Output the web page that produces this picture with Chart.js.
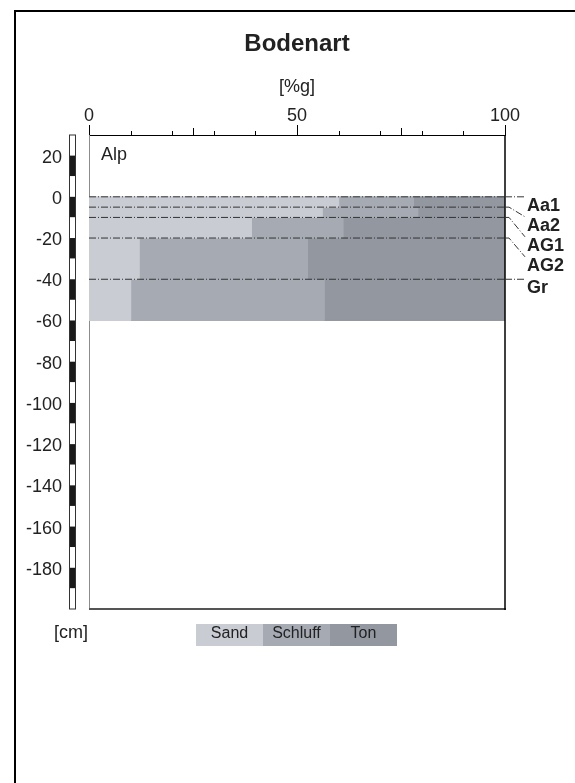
<!DOCTYPE html>
<html><head><meta charset="utf-8">
<script src="https://cdn.jsdelivr.net/npm/chart.js@4.4.0/dist/chart.umd.min.js"></script>
<style>
html,body{margin:0;padding:0;background:#fff;}
#wrap{position:relative;width:575px;height:783px;overflow:hidden;background:#fff;}
#c{position:absolute;left:0;top:0;}
#frame{position:absolute;left:14px;top:10px;width:620px;height:820px;border-left:2px solid #000;border-top:2px solid #000;}
.leg{position:absolute;top:624px;height:22px;line-height:22px;text-align:center;font:16px 'Liberation Sans',Arial,sans-serif;color:#222;}
#cm{position:absolute;left:36px;width:70px;top:622px;text-align:center;font:18px 'Liberation Sans',Arial,sans-serif;color:#222;}
</style></head>
<body><div id="wrap"><canvas id="c" width="575" height="783"></canvas><div id="frame"></div><div id="cm">[cm]</div></div>
<script>
// ---- data ----
const layers = ['Aa1','Aa2','AG1','AG2','Gr'];
const layerTop = [0,-5,-10,-20,-40];
const layerBottom = [-5,-10,-20,-40,-60];
const sand = [60,56,39,12,10];
const schluff = [18,23,22,40.5,46.5];
const ton = [22,21,39,47.5,43.5];
const yTicks = [20,0,-20,-40,-60,-80,-100,-120,-140,-160,-180];
const xTicks = [0,50,100];
const xMinor = [10,20,25,30,40,60,70,75,80,90];
const classNames = ['Sand','Schluff','Ton'];
// ---- styles ----
const classColors = ['#c9ccd3','#a6abb3','#9297a0'];
const F = "'Liberation Sans', Arial, sans-serif";
const DASH = [7,2,1,2];

const datasets = [];
layers.forEach((name,i)=>{
  const parts=[sand[i],schluff[i],ton[i]];
  let x0=0;
  parts.forEach((v,k)=>{
    const x1=x0+v;
    datasets.push({label:name+' '+classNames[k],
      data:[{x:x0,y:layerTop[i]},{x:x1,y:layerTop[i]},{x:x1,y:layerBottom[i]},{x:x0,y:layerBottom[i]},{x:x0,y:layerTop[i]}],
      showLine:true, fill:'shape', backgroundColor:classColors[k], borderColor:classColors[k], borderWidth:1,
      pointRadius:0, tension:0, order:2});
    x0=x1;
  });
});
layers.forEach((name,i)=>{
  datasets.push({label:name+' Grenze', data:[{x:0,y:layerTop[i]},{x:100,y:layerTop[i]}],
    showLine:true, fill:false, borderColor:'#333', borderWidth:1, borderDash:DASH, pointRadius:0, order:1});
});

const overlay = {
  id:'overlay',
  afterDraw(chart){
    const {ctx, chartArea:a, scales:{x,y}} = chart;
    ctx.save();
    // right & bottom frame
    ctx.setLineDash([]);
    ctx.strokeStyle='#555'; ctx.lineWidth=2;
    ctx.beginPath(); ctx.moveTo(a.left, a.bottom); ctx.lineTo(a.right+1, a.bottom); ctx.stroke();
    ctx.strokeStyle='#000'; ctx.lineWidth=1.5;
    ctx.beginPath(); ctx.moveTo(a.right, a.top); ctx.lineTo(a.right, a.bottom+1); ctx.stroke();
    // x ticks
    ctx.strokeStyle='#000'; ctx.lineWidth=1;
    const tick=(v,len)=>{const px=Math.round(x.getPixelForValue(v))+0.5; ctx.beginPath(); ctx.moveTo(px,a.top); ctx.lineTo(px,a.top-len); ctx.stroke();};
    xTicks.forEach(v=>tick(v,10));
    xMinor.forEach(v=>tick(v,(v%25===0)?7:4));
    // depth scale bar
    const bx0=69, bx1=76;
    for(let t=30;t>-200;t-=10){
      const p0=y.getPixelForValue(t), p1=y.getPixelForValue(t-10);
      ctx.fillStyle=(t%20===0)?'#1a1a1a':'#fff';
      ctx.fillRect(bx0,p0,bx1-bx0,p1-p0);
    }
    ctx.strokeStyle='#333'; ctx.lineWidth=1;
    ctx.strokeRect(bx0+0.5, y.getPixelForValue(30), bx1-bx0-1, y.getPixelForValue(-200)-y.getPixelForValue(30));
    // Alp
    ctx.fillStyle='#222'; ctx.font='18px '+F; ctx.textAlign='left'; ctx.textBaseline='alphabetic';
    ctx.fillText('Alp', 101, 160);
    // leaders and labels
    let prev=-Infinity;
    ctx.font='bold 18px '+F;
    layers.forEach((name,i)=>{
      const by=y.getPixelForValue(layerTop[i]);
      const ly=Math.max(by, prev+20); prev=ly;
      ctx.strokeStyle='#333'; ctx.lineWidth=1; ctx.setLineDash(DASH);
      ctx.beginPath(); ctx.moveTo(a.right, by);
      if (ly-by<1){ ctx.lineTo(a.right+19, by); }
      else { ctx.lineTo(a.right+4, by); ctx.lineTo(a.right+20, ly); }
      ctx.stroke();
      ctx.setLineDash([]);
      ctx.fillStyle='#222';
      ctx.fillText(name, a.right+22, ly+14);
    });
    ctx.restore();
  }
};

new Chart(document.getElementById('c'), {
  type:'scatter',
  data:{datasets},
  options:{
    responsive:false, animation:false, devicePixelRatio:1,
    layout:{padding:{left:14,right:70,top:0,bottom:174}},
    plugins:{
      legend:{display:false}, tooltip:{enabled:false},
      title:{display:true, text:'Bodenart', fullSize:false, color:'#222',
        font:{family:F, size:24, weight:'bold'}, padding:{top:30,bottom:6.4}}
    },
    scales:{
      x:{type:'linear', position:'top', min:0, max:100,
        afterBuildTicks(s){ s.ticks = xTicks.map(v=>({value:v})); },
        afterFit(s){ s.height = 69.8; },
        grid:{display:true, drawOnChartArea:false, drawTicks:false},
        border:{display:true, color:'#000', width:1},
        ticks:{padding:8, maxRotation:0, autoSkip:false, color:'#222', font:{family:F,size:18}, callback:v=>String(v)},
        title:{display:true, text:'[%g]', color:'#222', font:{family:F,size:18}, padding:{top:11,bottom:0}}
      },
      y:{type:'linear', position:'left', min:-200, max:30,
        afterBuildTicks(s){ s.ticks = yTicks.map(v=>({value:v})); },
        afterFit(s){ s.width = 75; },
        grid:{display:true, drawOnChartArea:false, drawTicks:false},
        border:{display:true, color:'#8c8c8c', width:1},
        ticks:{padding:27, autoSkip:false, labelOffset:2, color:'#222', font:{family:F,size:18}, callback:v=>String(v)}
      }
    }
  },
  plugins:[overlay]
});

// legend
const wrap=document.getElementById('wrap');
classNames.forEach((n,k)=>{
  const d=document.createElement('div'); d.className='leg';
  d.style.left=(196+67*k)+'px'; d.style.width='67px'; d.style.background=classColors[k];
  d.textContent=n; wrap.appendChild(d);
});
</script></body></html>
